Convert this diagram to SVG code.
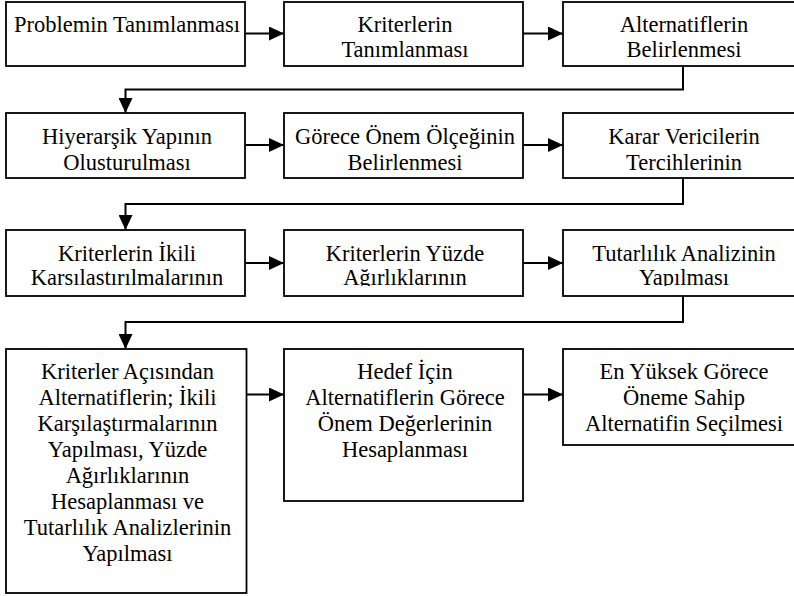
<svg xmlns="http://www.w3.org/2000/svg" width="794" height="596" viewBox="0 0 794 596">
<style>
.box{fill:#fff;stroke:#000;stroke-width:1.8}
.con{fill:none;stroke:#000;stroke-width:2}
.t text{font-family:'Liberation Serif','Times New Roman',Times,Tinos,'DejaVu Serif','Noto Serif',serif;font-size:22.5px;fill:#000;text-anchor:middle}
</style>
<defs>
<marker id="ah" markerUnits="userSpaceOnUse" markerWidth="16" markerHeight="14" refX="15" refY="7" orient="auto">
<path d="M0,0 L15,7 L0,14 Z" fill="#000"/>
</marker>
<clipPath id="c2"><rect x="0" y="113" width="800" height="58"/></clipPath>
<clipPath id="c3"><rect x="0" y="230" width="800" height="56"/></clipPath>
</defs>
<g id="connectors">
<path class="con" d="M245,33.5 H284" marker-end="url(#ah)"/>
<path class="con" d="M523,33.5 H563" marker-end="url(#ah)"/>
<path class="con" d="M683,66 V89.5 H125.5 V113" marker-end="url(#ah)"/>
<path class="con" d="M245,145 H284" marker-end="url(#ah)"/>
<path class="con" d="M523,145 H563" marker-end="url(#ah)"/>
<path class="con" d="M683,178 V204 H125.5 V230" marker-end="url(#ah)"/>
<path class="con" d="M245,263 H284" marker-end="url(#ah)"/>
<path class="con" d="M523,263 H563" marker-end="url(#ah)"/>
<path class="con" d="M683,296 V322 H125.5 V349" marker-end="url(#ah)"/>
<path class="con" d="M246,394.5 H284" marker-end="url(#ah)"/>
<path class="con" d="M523,394.5 H563" marker-end="url(#ah)"/>
</g>
<g class="t">
<g id="n1"><rect class="box" x="6" y="2" width="239" height="64"/><text x="127" y="32">Problemin Tanımlanması</text></g>
<g id="n2"><rect class="box" x="284" y="2" width="239" height="64"/><text x="405" y="32">Kriterlerin</text><text x="405" y="57.3">Tanımlanması</text></g>
<g id="n3"><rect class="box" x="563" y="2" width="242" height="64"/><text x="684" y="32">Alternatiflerin</text><text x="684" y="57.3">Belirlenmesi</text></g>
<g id="n4"><rect class="box" x="6" y="113" width="239" height="65"/><g clip-path="url(#c2)"><text x="127" y="144.3">Hiyerarşik Yapının</text><text x="127" y="169.6">Olusturulması</text></g></g>
<g id="n5"><rect class="box" x="284" y="113" width="239" height="65"/><g clip-path="url(#c2)"><text x="405" y="144.3">Görece Önem Ölçeğinin</text><text x="405" y="169.6">Belirlenmesi</text></g></g>
<g id="n6"><rect class="box" x="563" y="113" width="242" height="65"/><g clip-path="url(#c2)"><text x="684" y="144.3">Karar Vericilerin</text><text x="684" y="169.6">Tercihlerinin</text></g></g>
<g id="n7"><rect class="box" x="6" y="230" width="239" height="66"/><g clip-path="url(#c3)"><text x="127" y="260.7">Kriterlerin İkili</text><text x="127" y="285.3">Karsılastırılmalarının</text></g></g>
<g id="n8"><rect class="box" x="284" y="230" width="239" height="66"/><g clip-path="url(#c3)"><text x="405" y="260.7">Kriterlerin Yüzde</text><text x="405" y="285.3">Ağırlıklarının</text></g></g>
<g id="n9"><rect class="box" x="563" y="230" width="242" height="66"/><g clip-path="url(#c3)"><text x="684" y="260.7">Tutarlılık Analizinin</text><text x="684" y="285.3">Yapılması</text></g></g>
<g id="n10"><rect class="box" x="6" y="349" width="240.5" height="244"/>
<text x="127.5" y="379.3">Kriterler Açısından</text>
<text x="127.5" y="405.3">Alternatiflerin; İkili</text>
<text x="127.5" y="431.3">Karşılaştırmalarının</text>
<text x="127.5" y="457.3">Yapılması, Yüzde</text>
<text x="127.5" y="483.3">Ağırlıklarının</text>
<text x="127.5" y="509.3">Hesaplanması ve</text>
<text x="127.5" y="535.3">Tutarlılık Analizlerinin</text>
<text x="127.5" y="561.3">Yapılması</text></g>
<g id="n11"><rect class="box" x="284" y="349" width="239" height="152"/>
<text x="405" y="378.7">Hedef İçin</text>
<text x="405" y="404.7">Alternatiflerin Görece</text>
<text x="405" y="430.7">Önem Değerlerinin</text>
<text x="405" y="456.7">Hesaplanması</text></g>
<g id="n12"><rect class="box" x="563" y="349" width="242" height="96"/>
<text x="684" y="378.7">En Yüksek Görece</text>
<text x="684" y="404.7">Öneme Sahip</text>
<text x="684" y="430.7">Alternatifin Seçilmesi</text></g>
</g>
</svg>
